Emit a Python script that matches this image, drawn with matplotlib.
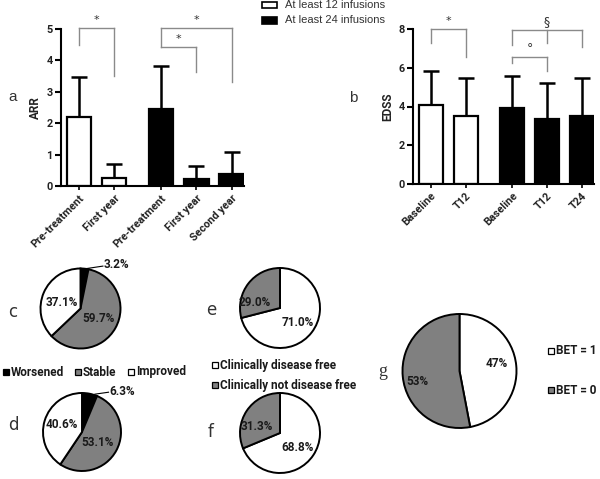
import matplotlib
matplotlib.use("Agg")
import matplotlib.pyplot as plt
from matplotlib.patches import Rectangle

# 資料
arr_labels = ["Pre-treatment", "First year", "Pre-treatment", "First year", "Second year"]
arr_mean = [2.2, 0.25, 2.45, 0.22, 0.37]
arr_sd = [1.28, 0.45, 1.38, 0.41, 0.71]

edss_labels = ["Baseline", "T12", "Baseline", "T12", "T24"]
edss_mean = [4.07, 3.5, 3.9, 3.37, 3.5]
edss_sd = [1.78, 1.98, 1.67, 1.86, 1.98]

bar_colors = ["white", "white", "black", "black", "black"]
bar_pos = [0, 1, 2.33, 3.33, 4.33]

pie_c = [3.2, 59.7, 37.1]   # Worsened, Stable, Improved
pie_d = [6.3, 53.1, 40.6]
pie_e = [71.0, 29.0]        # disease free, not disease free
pie_f = [68.8, 31.3]
pie_g = [47, 53]            # BET = 1, BET = 0

GRAY = "#808080"
W, H = 600, 479

fig = plt.figure(figsize=(6, 4.79), dpi=100)


def px_axes(x0, y0, x1, y1):
    return fig.add_axes([x0 / W, 1 - y1 / H, (x1 - x0) / W, (y1 - y0) / H])


def fx(x):
    return x / W


def fy(y):
    return 1 - y / H


def bar_panel(ax, means, sds, labels, ymax, ystep, ylabel):
    ax.bar(bar_pos, means, width=0.69, color=bar_colors, edgecolor="black", linewidth=1.6, zorder=2)
    ax.errorbar(bar_pos, means, yerr=[[0] * len(sds), sds], fmt="none", ecolor="black",
                elinewidth=1.8, capsize=5.5, capthick=1.8, zorder=1)
    ax.set_xlim(-0.51, 4.68)
    ax.set_ylim(0, ymax)
    ax.set_yticks(range(0, ymax + 1, ystep))
    ax.set_xticks(bar_pos)
    ax.set_xticklabels(labels, rotation=45, ha="right", rotation_mode="anchor",
                       fontsize=7.8, fontweight="bold", family="Roboto", color="#222222")
    for t in ax.get_yticklabels():
        t.set_fontsize(7.8)
        t.set_fontweight("bold")
        t.set_family("Roboto")
        t.set_color("#222222")
    ax.set_ylabel(ylabel, fontsize=8.5, fontweight="bold", family="Roboto", color="#222222", labelpad=3)
    for s in ["top", "right"]:
        ax.spines[s].set_visible(False)
    for s in ["left", "bottom"]:
        ax.spines[s].set_linewidth(1.5)
    ax.tick_params(axis="y", length=4, width=1.5, pad=2)
    ax.tick_params(axis="x", length=3, width=1.2, pad=2)


def bracket(ax, xs, top, legs, label, label_dy, size=8):
    ax.plot([xs[0], xs[-1]], [top, top], color="#8a8a8a", lw=1, clip_on=False)
    for x, y in zip(xs, legs):
        ax.plot([x, x], [top, y], color="#8a8a8a", lw=1, clip_on=False)
    ax.text((xs[0] + xs[-1]) / 2, top + label_dy, label, ha="center", va="bottom",
            fontsize=size, color="#333333", family="DejaVu Sans")


# a: ARR
ax_a = px_axes(61, 29, 244, 186)
bar_panel(ax_a, arr_mean, arr_sd, arr_labels, 5, 1, "ARR")
bracket(ax_a, [bar_pos[0], bar_pos[1]], 5.03, [4.5, 3.5], "*", 0.1)
bracket(ax_a, [bar_pos[2], bar_pos[4]], 5.03, [4.43, 3.3], "*", 0.1)
bracket(ax_a, [bar_pos[2], bar_pos[3]], 4.43, [4.43, 3.62], "*", 0.1)

# b: EDSS
ax_b = px_axes(413, 29, 594, 184)
bar_panel(ax_b, edss_mean, edss_sd, edss_labels, 8, 2, "EDSS")
bracket(ax_b, [bar_pos[0], bar_pos[1]], 8.0, [7.28, 6.55], "*", 0.15)
bracket(ax_b, [bar_pos[2], bar_pos[3], bar_pos[4]], 7.95, [7.17, 7.28, 7.07], "§", 0.12, size=9)
bracket(ax_b, [bar_pos[2], bar_pos[3]], 6.55, [6.24, 5.83], "°", 0.1, size=9)

fig.text(fx(13), fy(97), "a", fontsize=11, family="Liberation Sans", ha="center", va="center", color="#333333")
fig.text(fx(353), fy(98), "b", fontsize=11, family="Liberation Sans", ha="center", va="center", color="#333333")

# top legend
fig.patches.append(Rectangle((fx(262), fy(8)), fx(15), 6 / H, facecolor="white", edgecolor="black",
                             linewidth=1.2, transform=fig.transFigure))
fig.patches.append(Rectangle((fx(262), fy(24)), fx(15), 7 / H, facecolor="black", edgecolor="black",
                             linewidth=1.2, transform=fig.transFigure))
fig.text(fx(285), fy(5), "At least 12 infusions", fontsize=8, family="Liberation Sans", va="center", color="#333333")
fig.text(fx(285), fy(20), "At least 24 infusions", fontsize=8, family="Liberation Sans", va="center", color="#333333")

LAB = dict(fontsize=8.5, fontweight="bold", family="Roboto", color="#1a1a1a")


# pies
def pie_panel(cx, cy, r, values, colors, labels, lpos):
    ax = px_axes(cx - 1.25 * r, cy - 1.25 * r, cx + 1.25 * r, cy + 1.25 * r)
    ax.pie(values, colors=colors, startangle=90, counterclock=False,
           wedgeprops=dict(edgecolor="black", linewidth=1.4))
    ax.set_xlim(-1.25, 1.25)
    ax.set_ylim(-1.25, 1.25)
    for lab, (x, y) in zip(labels, lpos):
        ax.text(x, y, lab, ha="center", va="center", **LAB)
    return ax


ax_c = pie_panel(80.5, 308.5, 40, pie_c, ["black", GRAY, "white"],
                 ["59.7%", "37.1%"], [(0.44, -0.24), (-0.46, 0.16)])
ax_c.plot([0.16, 0.56], [1.0, 1.06], color="black", lw=0.8, clip_on=False)
ax_c.text(0.57, 1.1, "3.2%", ha="left", va="center", **LAB)

ax_d = pie_panel(82, 432, 39, pie_d, ["black", GRAY, "white"],
                 ["53.1%", "40.6%"], [(0.41, -0.26), (-0.51, 0.18)])
ax_d.plot([0.33, 0.68], [0.97, 1.02], color="black", lw=0.8, clip_on=False)
ax_d.text(0.7, 1.03, "6.3%", ha="left", va="center", **LAB)

pie_panel(280, 308, 40, pie_e, ["white", GRAY], ["71.0%", "29.0%"], [(0.45, -0.35), (-0.62, 0.15)])
pie_panel(280, 433, 40, pie_f, ["white", GRAY], ["68.8%", "31.3%"], [(0.45, -0.37), (-0.58, 0.15)])
pie_panel(459.5, 371, 57, pie_g, ["white", GRAY], ["47%", "53%"], [(0.66, 0.14), (-0.73, -0.19)])

for lab, x, y in [("c", 13, 312), ("d", 13, 425), ("e", 211, 310), ("f", 211, 432)]:
    fig.text(fx(x), fy(y), lab, fontsize=12, family="DejaVu Sans", ha="center", va="center", color="#333333")
fig.text(fx(383), fy(372), "g", fontsize=13, family="Liberation Serif", ha="center", va="center", color="#333333")


def legend_item(x, y, color, text):
    fig.patches.append(Rectangle((fx(x), fy(y + 3)), 6 / W, 6 / H, facecolor=color, edgecolor="black",
                                 linewidth=0.9, transform=fig.transFigure))
    fig.text(fx(x + 8), fy(y), text, va="center", ha="left", **LAB)


legend_item(3, 372, "black", "Worsened")
legend_item(75, 372, GRAY, "Stable")
legend_item(128, 372, "white", "Improved")
legend_item(212, 365, "white", "Clinically disease free")
legend_item(212, 385, GRAY, "Clinically not disease free")
legend_item(548, 351, "white", "BET = 1")
legend_item(548, 390, GRAY, "BET = 0")

plt.savefig("out.png", dpi=100)
